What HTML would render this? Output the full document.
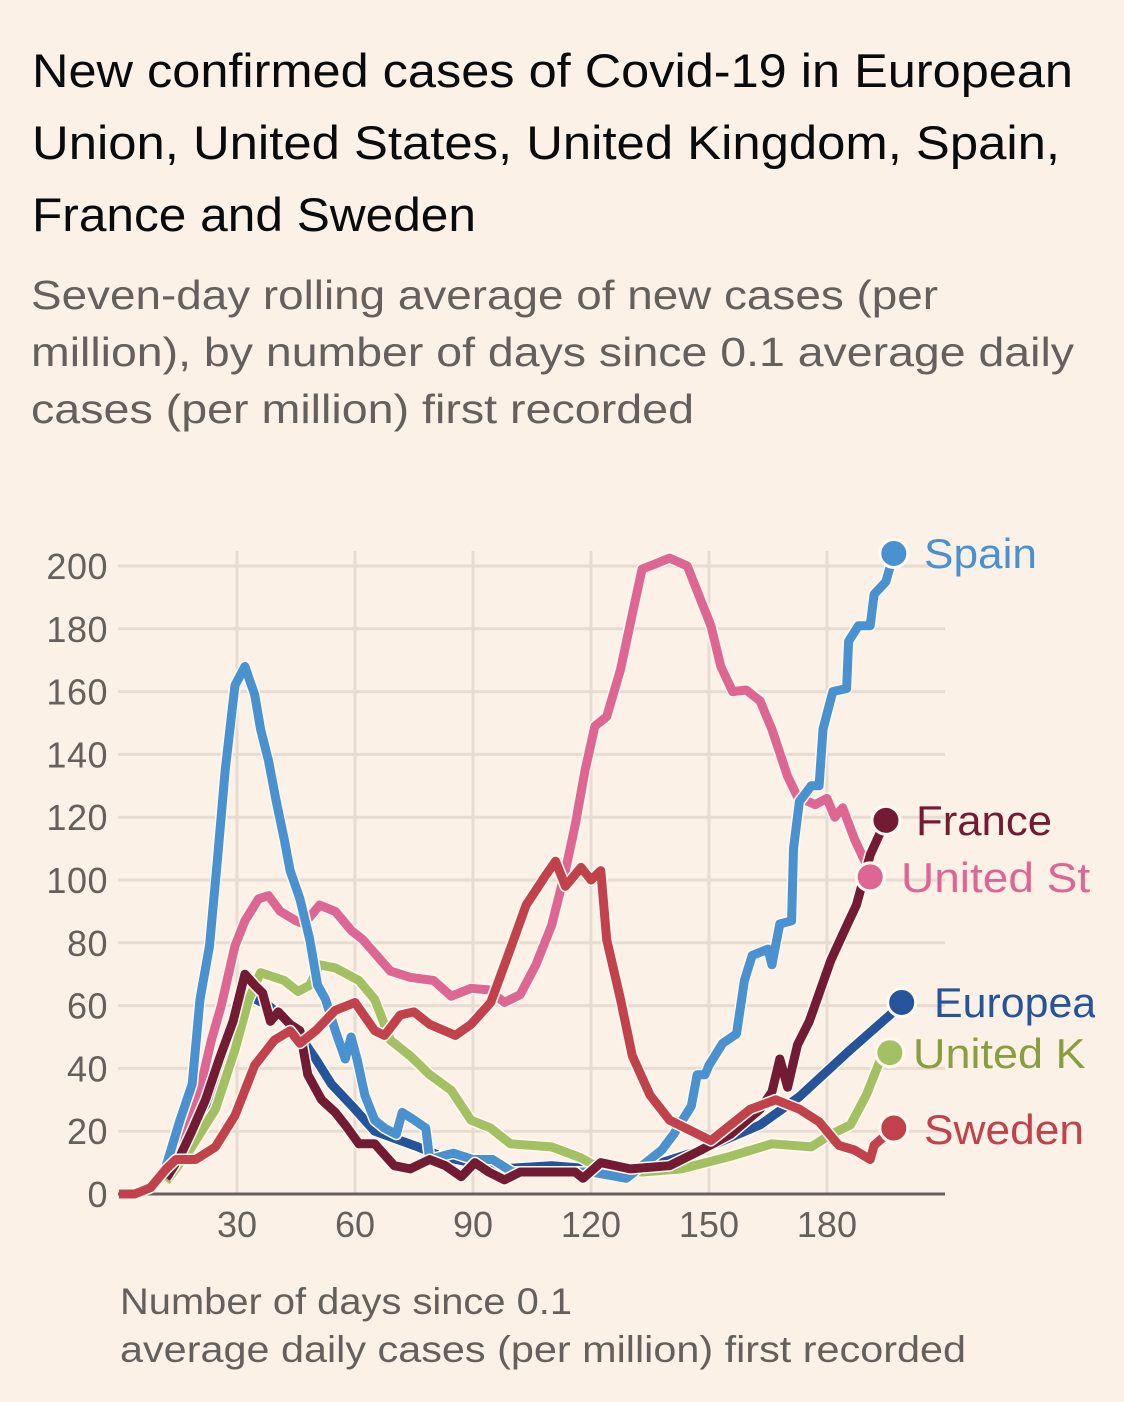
<!DOCTYPE html>
<html lang="en">
<head>
<meta charset="utf-8">
<title>New confirmed cases of Covid-19</title>
<style>
html,body{margin:0;padding:0;background:#fcf1e7;}
svg{display:block;font-family:"Liberation Sans",sans-serif;}
</style>
</head>
<body>
<svg id="chart" xmlns="http://www.w3.org/2000/svg" width="1124" height="1402" viewBox="0 0 1124 1402">
  <defs>
    <clipPath id="clip-eu"><rect x="900" y="970" width="195" height="60"/></clipPath>
    <clipPath id="clip-us"><rect x="880" y="850" width="210" height="60"/></clipPath>
    <clipPath id="clip-uk"><rect x="880" y="1028" width="208" height="60"/></clipPath>
  </defs>
  <rect width="1124" height="1402" fill="#fcf1e7"/>
  <g fill="#0a0a0a" font-size="47">
    <text x="32" y="87" textLength="1041" lengthAdjust="spacingAndGlyphs">New confirmed cases of Covid-19 in European</text>
    <text x="32" y="159" textLength="1028" lengthAdjust="spacingAndGlyphs">Union, United States, United Kingdom, Spain,</text>
    <text x="32" y="231" textLength="444" lengthAdjust="spacingAndGlyphs">France and Sweden</text>
  </g>
  <g fill="#66605c" font-size="41">
    <text x="31" y="309" textLength="907" lengthAdjust="spacingAndGlyphs">Seven-day rolling average of new cases (per</text>
    <text x="31" y="366" textLength="1043" lengthAdjust="spacingAndGlyphs">million), by number of days since 0.1 average daily</text>
    <text x="31" y="423" textLength="663" lengthAdjust="spacingAndGlyphs">cases (per million) first recorded</text>
  </g>
  <g id="grid"></g>
  <g id="axes"></g>
  <g id="series"></g>
  <g id="dots"></g>
  <g font-size="42">
    <text x="924" y="568" fill="#4a91cf" textLength="113" lengthAdjust="spacingAndGlyphs">Spain</text>
    <text x="916" y="835" fill="#721b33" textLength="136" lengthAdjust="spacingAndGlyphs">France</text>
    <text x="901" y="892" fill="#de6693" clip-path="url(#clip-us)" textLength="276" lengthAdjust="spacingAndGlyphs">United States</text>
    <text x="934" y="1017" fill="#26549a" clip-path="url(#clip-eu)" textLength="310" lengthAdjust="spacingAndGlyphs">European Union</text>
    <text x="913" y="1068" fill="#8a9e3f" clip-path="url(#clip-uk)" textLength="320" lengthAdjust="spacingAndGlyphs">United Kingdom</text>
    <text x="924" y="1144" fill="#c1424a" textLength="160" lengthAdjust="spacingAndGlyphs">Sweden</text>
  </g>
  <g fill="#66605c" font-size="37">
    <text x="120" y="1314" textLength="452" lengthAdjust="spacingAndGlyphs">Number of days since 0.1</text>
    <text x="120" y="1362" textLength="846" lengthAdjust="spacingAndGlyphs">average daily cases (per million) first recorded</text>
  </g>
</svg>
<script>
const yTicks = [0, 20, 40, 60, 80, 100, 120, 140, 160, 180, 200];
const xTicks = [30, 60, 90, 120, 150, 180];

const euDays = [12, 18, 24, 30, 33, 38, 44, 50, 54, 60, 65, 76, 82, 97, 110, 120, 133, 148, 163, 173, 186, 196, 199];
const euValues = [5, 16, 32, 50, 63, 60, 54, 43, 35, 27, 20, 15, 12, 8, 9, 8, 8, 14, 22, 31, 46, 57, 61];

const ukDays = [12, 18, 24.5, 29.5, 33, 36, 42, 45.5, 48.5, 51, 55, 61, 65, 69, 74, 79, 84.5, 89.5, 94.5, 99.5, 110, 117.5, 122.5, 133, 143, 155.5, 166, 176, 181, 186, 190, 194, 196];
const ukValues = [4, 14, 27, 46, 62, 70.5, 68, 64.5, 66.5, 73, 72, 68, 62, 49, 44, 38, 33, 23.5, 21, 16, 15, 11.5, 8, 7, 8, 12, 16, 15, 19, 22, 31.5, 44, 45];

const usDays = [12, 17, 20.5, 23.5, 26, 29.5, 32, 35.5, 38, 41, 45, 47, 51, 55, 59, 62, 65.5, 69, 74, 80, 84.5, 89.5, 94, 98, 102, 106, 110, 113.5, 116, 118.5, 121, 124, 127.5, 131, 133, 137, 140, 144.5, 147, 150.5, 153, 156, 159.5, 163, 166, 170, 172.5, 177, 180, 182, 184, 187, 190, 191];
const usValues = [8, 20, 33, 49, 60, 79, 87, 94, 95, 90, 87, 86, 92, 90, 84, 81, 76, 71, 69, 68, 63, 65.5, 65, 61, 63.5, 73, 85.5, 103, 117.5, 135, 149, 152, 167, 187.5, 199, 201, 202.5, 200, 192, 181, 168, 160, 160.5, 157, 148, 133, 126.5, 124, 126, 120, 123, 113, 105, 101];

const spainDays = [12, 15.5, 18.6, 20.6, 23, 25, 27, 29.5, 32, 34.5, 36, 38, 40, 42, 43.5, 46, 48.5, 50.5, 52.5, 55, 57.5, 59, 60.5, 62.5, 65, 67.5, 70.5, 72, 74.5, 78, 79, 85, 90, 95, 100, 110, 120, 129, 133, 138, 141, 145.5, 147, 149, 150, 153.5, 157, 159, 161, 165, 166, 168, 171, 171.5, 173, 176, 178, 179, 181.5, 185, 185.5, 188, 191, 192, 195, 197];
const spainValues = [9, 23.5, 35, 62, 79, 106, 135, 162, 168, 159, 148, 138, 125, 113, 103, 94, 81, 66.5, 62, 52, 43, 50, 43, 31.5, 23.5, 21, 19, 26, 24, 21, 11, 13, 11, 11, 7, 7, 7, 5, 9, 14, 19, 28, 38, 38, 41, 48, 51, 68, 76, 78, 73, 86, 87, 110, 125, 130, 130, 148, 160, 161, 176, 181, 181, 191, 195, 204];

const franceDays = [12, 15.5, 18.5, 22, 25.5, 29, 32, 34.5, 36.5, 38.5, 40.5, 43.5, 46, 48, 51.5, 55, 57.5, 61, 65, 70, 74, 79, 83, 87, 90.5, 94, 98, 102, 112, 116, 118, 122.5, 130, 140, 148, 155.5, 163, 166, 168, 170, 172.5, 175.5, 181, 184.5, 187.5, 191, 195];
const franceValues = [5, 12, 20, 30, 43, 55, 70, 66.5, 64, 55, 58, 54, 52, 38, 30, 26, 22, 16, 16, 9, 8, 11, 9, 5.5, 10, 7, 4.5, 7, 7, 7, 5, 10, 8, 9, 14, 19, 27, 32.5, 43, 34, 47.5, 55, 74.5, 84, 92, 108, 119];

const swedenDays = [0, 4, 8, 12, 14.5, 19.5, 24.5, 29.5, 34.5, 39.5, 43.5, 46, 50, 55, 60, 65, 67.5, 71.5, 75, 79, 85.5, 89.5, 94.5, 99.5, 103.5, 108.5, 111, 113.5, 117.5, 120, 122.5, 124, 127.5, 130.5, 135, 140, 150.5, 155.5, 160.5, 167, 173, 178, 183, 187, 191, 192, 197];
const swedenValues = [0, 0, 2, 8, 11, 11, 15, 25, 41, 49, 52, 48, 52, 58.5, 61, 52, 50.5, 57, 58, 54, 50.5, 54, 61, 78, 92, 101.5, 106, 98, 104, 100, 103, 81, 62, 44, 31.5, 23.5, 17, 22, 27, 30, 27, 23, 15.5, 14, 11, 15.5, 21];

const xScale = function (day) { return 237 + (day - 30) * 3.933; };
const yScale = function (value) { return 1194 - value * 3.14; };
const NS = 'http://www.w3.org/2000/svg';

const grid = document.getElementById('grid');
const axes = document.getElementById('axes');
const seriesGroup = document.getElementById('series');
const dotsGroup = document.getElementById('dots');

yTicks.forEach(function (tick) {
  const y = yScale(tick);
  if (tick !== 0) {
    const gridLine = document.createElementNS(NS, 'line');
    
    
    gridLine.setAttribute('x1', 118);
    gridLine.setAttribute('x2', 945);
    gridLine.setAttribute('y1', y);
    gridLine.setAttribute('y2', y);
    gridLine.setAttribute('stroke', '#e7dcd2');
    gridLine.setAttribute('stroke-width', 3);
    grid.appendChild(gridLine);
  }
  const label = document.createElementNS(NS, 'text');
  
  
  label.setAttribute('x', 108);
  label.setAttribute('y', y + 13);
  label.setAttribute('text-anchor', 'end');
  label.setAttribute('font-size', 36);
  label.setAttribute('letter-spacing', 0.5);
  label.setAttribute('fill', '#66605c');
  label.textContent = tick;
  axes.appendChild(label);
});

xTicks.forEach(function (tick) {
  const x = xScale(tick);
  const gridLine = document.createElementNS(NS, 'line');
  
  
  gridLine.setAttribute('x1', x);
  gridLine.setAttribute('x2', x);
  gridLine.setAttribute('y1', 551);
  gridLine.setAttribute('y2', 1194);
  gridLine.setAttribute('stroke', '#e7dcd2');
  gridLine.setAttribute('stroke-width', 3);
  grid.appendChild(gridLine);
  const label = document.createElementNS(NS, 'text');
  
  
  label.setAttribute('x', x);
  label.setAttribute('y', 1237);
  label.setAttribute('text-anchor', 'middle');
  label.setAttribute('font-size', 36);
  label.setAttribute('fill', '#66605c');
  label.textContent = tick;
  axes.appendChild(label);
});

const baseline = document.createElementNS(NS, 'line');


baseline.setAttribute('x1', 118);
baseline.setAttribute('x2', 945);
baseline.setAttribute('y1', yScale(0));
baseline.setAttribute('y2', yScale(0));
baseline.setAttribute('stroke', '#66605c');
baseline.setAttribute('stroke-width', 3);
axes.appendChild(baseline);

const seriesList = [
  { key: 'european-union', days: euDays, values: euValues, color: '#26549a' },
  { key: 'united-kingdom', days: ukDays, values: ukValues, color: '#a3c163' },
  { key: 'united-states', days: usDays, values: usValues, color: '#de6693' },
  { key: 'spain', days: spainDays, values: spainValues, color: '#4a91cf' },
  { key: 'france', days: franceDays, values: franceValues, color: '#721b33' },
  { key: 'sweden', days: swedenDays, values: swedenValues, color: '#c1424a' }
];

seriesList.forEach(function (s) {
  const pts = s.days.map(function (d, i) {
    return xScale(d).toFixed(1) + ',' + yScale(s.values[i]).toFixed(1);
  }).join(' ');
  const halo = document.createElementNS(NS, 'polyline');
  
  
  halo.setAttribute('points', pts);
  halo.setAttribute('fill', 'none');
  halo.setAttribute('stroke', '#fff9f1');
  halo.setAttribute('stroke-width', 12);
  halo.setAttribute('stroke-linejoin', 'round');
  seriesGroup.appendChild(halo);
  const line = document.createElementNS(NS, 'polyline');
  
  
  line.setAttribute('points', pts);
  line.setAttribute('fill', 'none');
  line.setAttribute('stroke', s.color);
  line.setAttribute('stroke-width', 9);
  line.setAttribute('stroke-linejoin', 'round');
  seriesGroup.appendChild(line);
  const last = s.days.length - 1;
  const dot = document.createElementNS(NS, 'circle');
  
  
  dot.setAttribute('cx', xScale(s.days[last]));
  dot.setAttribute('cy', yScale(s.values[last]));
  dot.setAttribute('r', 14);
  dot.setAttribute('fill', s.color);
  dot.setAttribute('stroke', '#fff9f1');
  dot.setAttribute('stroke-width', 3);
  dotsGroup.appendChild(dot);
});
</script>
</body>
</html>
